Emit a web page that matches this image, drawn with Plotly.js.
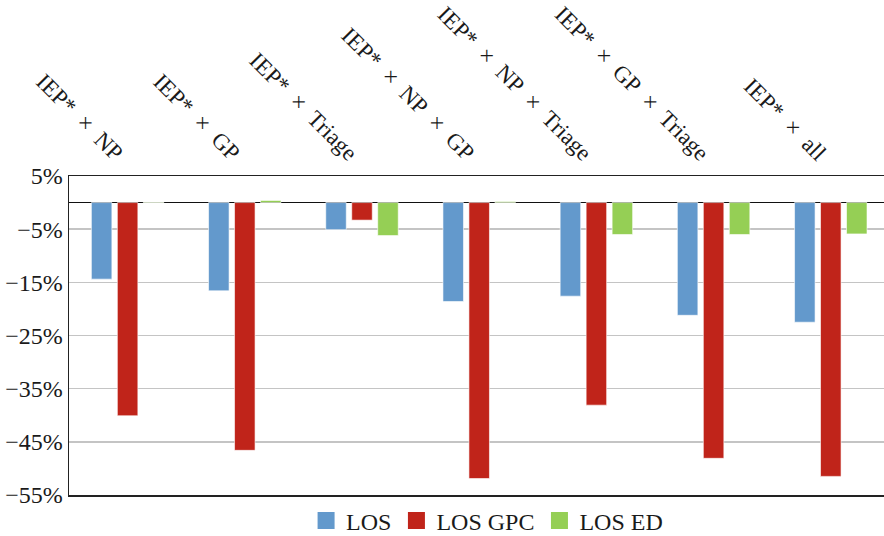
<!DOCTYPE html>
<html>
<head>
<meta charset="utf-8">
<script src="https://cdn.plot.ly/plotly-3.0.1.min.js"></script>
<style>
  html, body { margin: 0; padding: 0; background: #fff; }
  #chart { width: 884px; height: 536px; }
</style>
</head>
<body>
<div id="chart"></div>
<script>
// Intervention combinations (en spaces around the × operator)
const categories = [
  "IEP*\u2002×\u2002NP",
  "IEP*\u2002×\u2002GP",
  "IEP*\u2002×\u2002Triage",
  "IEP*\u2002×\u2002NP\u2002×\u2002GP",
  "IEP*\u2002×\u2002NP\u2002×\u2002Triage",
  "IEP*\u2002×\u2002GP\u2002×\u2002Triage",
  "IEP*\u2002×\u2002all"
];

// Relative change (%) per outcome
const los    = [-14.4, -16.6, -5.1, -18.6, -17.6, -21.2, -22.5];
const losGpc = [-40.1, -46.6, -3.3, -51.9, -38.1, -48.1, -51.5];
const losEd  = [0.1, 0.4, -6.2, 0.2, -6.0, -6.0, -5.9];

const serif = "Liberation Serif, Times New Roman, Times, serif";

function series(name, values, color) {
  return {
    type: "bar",
    name: name,
    x: categories,
    y: values,
    marker: { color: color, line: { color: "rgba(255,255,255,0.6)", width: 1 } },
    hoverinfo: "skip"
  };
}

const data = [
  series("LOS", los, "#6399cc"),
  series("LOS GPC", losGpc, "#c0241a"),
  series("LOS ED", losEd, "#95cf55")
];

const layout = {
  width: 884,
  height: 536,
  margin: { l: 69, r: 0, t: 176, b: 41 },
  paper_bgcolor: "#ffffff",
  plot_bgcolor: "#ffffff",
  font: { family: serif, size: 24, color: "#1a1a1a" },
  barmode: "group",
  bargap: 0.335,
  bargroupgap: 0.21,
  showlegend: true,
  legend: {
    orientation: "h",
    xref: "container",
    yref: "container",
    x: 0.551, xanchor: "center",
    y: 0.028, yanchor: "middle",
    font: { family: serif, size: 24, color: "#1a1a1a" },
    traceorder: "normal",
    itemwidth: 30
  },
  xaxis: {
    side: "top",
    type: "category",
    range: [-0.5, 6.454],
    tickangle: 45,
    ticklabelshift: -6,
    ticks: "",
    showgrid: false,
    showline: true,
    linecolor: "#222",
    linewidth: 1.5,
    mirror: true,
    tickfont: { family: serif, size: 23, color: "#1a1a1a" },
    fixedrange: true
  },
  yaxis: {
    range: [-55, 5],
    tick0: 5,
    dtick: 10,
    ticksuffix: "%",
    ticks: "",
    showgrid: true,
    gridcolor: "#c4c4c4",
    gridwidth: 1.5,
    zeroline: true,
    zerolinecolor: "#111",
    zerolinewidth: 1.5,
    showline: true,
    linecolor: "#222",
    linewidth: 1.5,
    tickfont: { family: serif, size: 24, color: "#1a1a1a" },
    fixedrange: true
  }
};

// Square legend swatches
function squareSwatches(gd) {
  gd.querySelectorAll("g.legendpoints path").forEach(function (p) {
    p.setAttribute("d", "M8.5,8.5H-8.5V-8.5H8.5Z");
    p.style.strokeWidth = "0px";
  });
}

const gd = document.getElementById("chart");
Plotly.newPlot(gd, data, layout, { displayModeBar: false, staticPlot: true }).then(function () {
  squareSwatches(gd);
  gd.on("plotly_afterplot", function () { squareSwatches(gd); });
  requestAnimationFrame(function () { squareSwatches(gd); });
});
</script>
</body>
</html>
